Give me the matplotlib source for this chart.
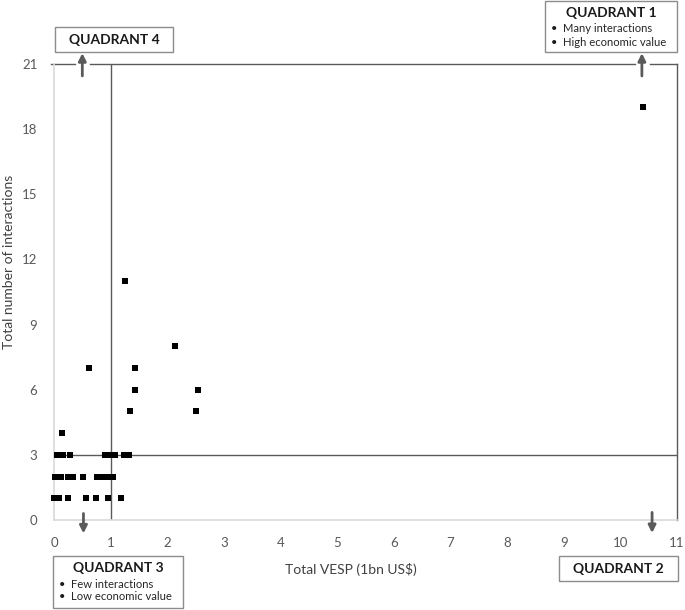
import matplotlib
matplotlib.use('Agg')
import matplotlib.pyplot as plt
from matplotlib.patches import Rectangle

plt.rcParams['font.family'] = ['Lato', 'DejaVu Sans']

# data
vesp = [0.61, 1.43, 1.43, 2.54, 1.34, 2.51, 2.13, 0.15, 1.25, 10.40,
        0.06, 0.16, 0.28, 0.90, 0.99, 1.08, 1.24, 1.32,
        0.02, 0.12, 0.24, 0.34, 0.52, 0.76, 0.85, 0.96, 1.05,
        0.00, 0.08, 0.25, 0.57, 0.75, 0.95, 1.19]
interactions = [7, 7, 6, 6, 5, 5, 8, 4, 11, 19,
                3, 3, 3, 3, 3, 3, 3, 3,
                2, 2, 2, 2, 2, 2, 2, 2, 2,
                1, 1, 1, 1, 1, 1, 1]
x_ticks = list(range(0, 12))
y_ticks = [0, 3, 6, 9, 12, 15, 18, 21]
x_split = 1
y_split = 3

W, H = 685, 610
fig = plt.figure(figsize=(W / 100, H / 100), dpi=100)
ax = fig.add_axes([54 / W, 1 - 520 / H, (677 - 54) / W, (520 - 64) / H])

dark = '#5a5a5a'
light = '#d9d9d9'

ax.set_xlim(0, 11)
ax.set_ylim(0, 21)
ax.set_xticks(x_ticks)
ax.set_yticks(y_ticks)
ax.tick_params(length=0, labelsize=9.5, labelcolor='#595959')
ax.tick_params(axis='x', pad=12)
ax.tick_params(axis='y', pad=12)
for s in ['top', 'right']:
    ax.spines[s].set_visible(False)
for s in ['left', 'bottom']:
    ax.spines[s].set_color(light)
    ax.spines[s].set_linewidth(1.2)

# quadrant dividers and frame
ax.plot([x_split, x_split], [0, 21], color=dark, lw=1, zorder=2)
ax.plot([-0.05, 11], [y_split, y_split], color=dark, lw=1, zorder=2)
for a, b in [(-0.05, 0.37), (0.64, 10.25), (10.53, 11)]:
    ax.plot([a, b], [21, 21], color=dark, lw=1, clip_on=False, zorder=2)
ax.plot([11, 11], [0, 21], color=dark, lw=1, clip_on=False, zorder=2)

# arrows pointing to quadrant boxes
arrow = dict(arrowstyle='-|>', color=dark, lw=2, mutation_scale=11,
             shrinkA=0, shrinkB=0)
for xa, y0, y1 in [(0.5, 20.45, 21.5), (10.38, 20.45, 21.5),
                   (0.52, 0.3, -0.62), (10.56, 0.35, -0.6)]:
    ax.annotate('', xy=(xa, y1), xytext=(xa, y0), arrowprops=arrow,
                annotation_clip=False)

ax.scatter(vesp, interactions, marker='s', s=22, color='black',
           zorder=3, clip_on=False, linewidths=0)

fig.text(351 / W, 1 - 570 / H, 'Total VESP (1bn US$)', ha='center',
         va='center', fontsize=10, color='#404040')
fig.text(9 / W, 1 - 262 / H, 'Total number of interactions', ha='center',
         va='center', rotation=90, fontsize=10, color='#404040')


def qbox(x0, y0, x1, y1, title, title_y, bullets=(), bullet_y=()):
    fig.add_artist(Rectangle((x0 / W, 1 - y1 / H), (x1 - x0) / W,
                             (y1 - y0) / H, transform=fig.transFigure,
                             facecolor='white', edgecolor='#8c8c8c', lw=1))
    fig.text((x0 + x1) / 2 / W, 1 - title_y / H, title, ha='center',
             va='center', fontsize=10, fontweight='bold', color='#1a1a1a')
    for b, by in zip(bullets, bullet_y):
        fig.text((x0 + 6) / W, 1 - by / H, '\u2022', ha='left', va='center',
                 fontsize=8, color='#1a1a1a')
        fig.text((x0 + 18) / W, 1 - by / H, b, ha='left', va='center',
                 fontsize=8.1, color='#262626')


qbox(55, 27, 173, 52, 'QUADRANT 4', 40)
qbox(545, 1, 677, 52, 'QUADRANT 1', 13,
     ['Many interactions', 'High economic value'], [28, 42])
qbox(53, 556, 183, 608, 'QUADRANT 3', 568,
     ['Few interactions', 'Low economic value'], [584, 597])
qbox(559, 556, 678, 581, 'QUADRANT 2', 569)

fig.savefig('out.png', dpi=100)
